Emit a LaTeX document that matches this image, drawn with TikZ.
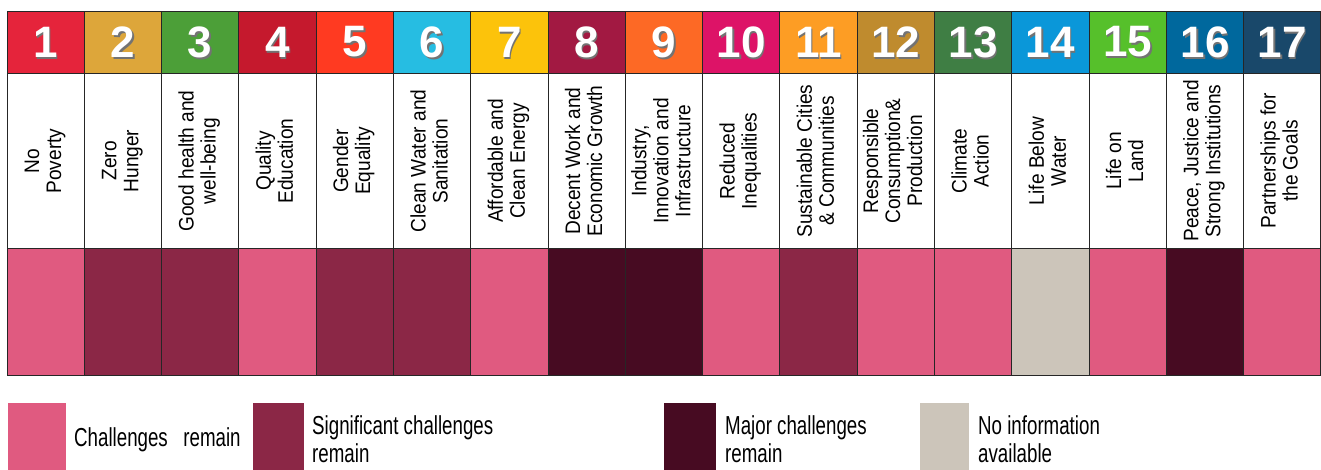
\documentclass[tikz,border=0pt]{standalone}
\usepackage{fontspec}
\setmainfont{Liberation Sans}
\newfontfamily\legendfont[FakeStretch=0.72]{Liberation Sans}
\newfontfamily\namefont[FakeStretch=0.91]{Liberation Sans}
\usetikzlibrary{positioning}
\usepackage{xcolor}
\usepackage{graphicx}

% goal colours
\definecolor{sdgA}{HTML}{E5243B}
\definecolor{sdgB}{HTML}{DDA63A}
\definecolor{sdgC}{HTML}{4C9F38}
\definecolor{sdgD}{HTML}{C5192D}
\definecolor{sdgE}{HTML}{FF3A21}
\definecolor{sdgF}{HTML}{26BDE2}
\definecolor{sdgG}{HTML}{FCC30B}
\definecolor{sdgH}{HTML}{A21942}
\definecolor{sdgI}{HTML}{FD6925}
\definecolor{sdgJ}{HTML}{DD1367}
\definecolor{sdgK}{HTML}{FD9D24}
\definecolor{sdgL}{HTML}{BF8B2E}
\definecolor{sdgM}{HTML}{3F7E44}
\definecolor{sdgN}{HTML}{0A97D9}
\definecolor{sdgO}{HTML}{56C02B}
\definecolor{sdgP}{HTML}{00689D}
\definecolor{sdgQ}{HTML}{19486A}
% status colours
\definecolor{chal}{HTML}{E05A80}
\definecolor{sigchal}{HTML}{8B2746}
\definecolor{majchal}{HTML}{470B22}
\definecolor{noinfo}{HTML}{CCC5BA}

\begin{document}
\begin{tikzpicture}[x=1pt,y=1pt]
	\newcommand\colw{77.29pt}
	\newcommand\numh{62pt}
	\newcommand\nameh{174pt}
	\newcommand\stath{127pt}
	\newcommand\goalnum[1]{\makebox[0pt][l]{\hspace{1.5pt}\raisebox{-2pt}{\textcolor{black!55}{#1}}}#1}
	\newcommand\goaltext[1]{\rotatebox{90}{\begin{tabular}{@{}c@{}}#1\end{tabular}}}
	\tikzset{
		cell/.style = {rectangle, draw=black!85, line width=1pt, inner sep=0pt, outer sep=0pt, minimum width=\colw},
		numcell/.style = {cell, minimum height=\numh, fill=#1, text=white, font=\fontsize{44}{44}\selectfont\bfseries},
		namecell/.style = {cell, minimum height=\nameh, fill=white, font=\namefont\fontsize{21}{22}\selectfont},
		statcell/.style = {cell, minimum height=\stath, fill=#1},
		legbox/.style = {rectangle, fill=#1, inner sep=0pt, outer sep=0pt, minimum height=67pt, anchor=north west},
		legtext/.style = {inner sep=0pt, align=left, font=\legendfont\fontsize{26}{28}\selectfont},
	}
	\useasboundingbox (0,0) rectangle (1321,-470);

	% goal numbers
	\node [numcell=sdgA, anchor=north west] (h1) at (7,-12) {\goalnum{1}};
	\node [numcell=sdgB, right=0pt of h1] (h2) {\goalnum{2}};
	\node [numcell=sdgC, right=0pt of h2] (h3) {\goalnum{3}};
	\node [numcell=sdgD, right=0pt of h3] (h4) {\goalnum{4}};
	\node [numcell=sdgE, right=0pt of h4] (h5) {\goalnum{5}};
	\node [numcell=sdgF, right=0pt of h5] (h6) {\goalnum{6}};
	\node [numcell=sdgG, right=0pt of h6] (h7) {\goalnum{7}};
	\node [numcell=sdgH, right=0pt of h7] (h8) {\goalnum{8}};
	\node [numcell=sdgI, right=0pt of h8] (h9) {\goalnum{9}};
	\node [numcell=sdgJ, right=0pt of h9] (h10) {\goalnum{10}};
	\node [numcell=sdgK, right=0pt of h10] (h11) {\goalnum{11}};
	\node [numcell=sdgL, right=0pt of h11] (h12) {\goalnum{12}};
	\node [numcell=sdgM, right=0pt of h12] (h13) {\goalnum{13}};
	\node [numcell=sdgN, right=0pt of h13] (h14) {\goalnum{14}};
	\node [numcell=sdgO, right=0pt of h14] (h15) {\goalnum{15}};
	\node [numcell=sdgP, right=0pt of h15] (h16) {\goalnum{16}};
	\node [numcell=sdgQ, right=0pt of h16] (h17) {\goalnum{17}};

	% goal names
	\node [namecell, below=0pt of h1] (n1) {\goaltext{No\\Poverty}};
	\node [namecell, below=0pt of h2] (n2) {\goaltext{Zero\\Hunger}};
	\node [namecell, below=0pt of h3] (n3) {\goaltext{Good health and\\well-being}};
	\node [namecell, below=0pt of h4] (n4) {\goaltext{Quality\\Education}};
	\node [namecell, below=0pt of h5] (n5) {\goaltext{Gender\\Equality}};
	\node [namecell, below=0pt of h6] (n6) {\goaltext{Clean Water and\\Sanitation}};
	\node [namecell, below=0pt of h7] (n7) {\goaltext{Affordable and\\Clean Energy}};
	\node [namecell, below=0pt of h8] (n8) {\goaltext{Decent Work and\\Economic Growth}};
	\node [namecell, below=0pt of h9] (n9) {\goaltext{Industry,\\Innovation and\\Infrastructure}};
	\node [namecell, below=0pt of h10] (n10) {\goaltext{Reduced\\Inequalities}};
	\node [namecell, below=0pt of h11] (n11) {\goaltext{Sustainable Cities\\\& Communities}};
	\node [namecell, below=0pt of h12] (n12) {\goaltext{Responsible\\Consumption\&\\Production}};
	\node [namecell, below=0pt of h13] (n13) {\goaltext{Climate\\Action}};
	\node [namecell, below=0pt of h14] (n14) {\goaltext{Life Below\\Water}};
	\node [namecell, below=0pt of h15] (n15) {\goaltext{Life on\\Land}};
	\node [namecell, below=0pt of h16] (n16) {\goaltext{Peace, Justice and\\Strong Institutions}};
	\node [namecell, below=0pt of h17] (n17) {\goaltext{Partnerships for\\the Goals}};

	% status
	\node [statcell=chal, below=0pt of n1] (s1) {};
	\node [statcell=sigchal, below=0pt of n2] (s2) {};
	\node [statcell=sigchal, below=0pt of n3] (s3) {};
	\node [statcell=chal, below=0pt of n4] (s4) {};
	\node [statcell=sigchal, below=0pt of n5] (s5) {};
	\node [statcell=sigchal, below=0pt of n6] (s6) {};
	\node [statcell=chal, below=0pt of n7] (s7) {};
	\node [statcell=majchal, below=0pt of n8] (s8) {};
	\node [statcell=majchal, below=0pt of n9] (s9) {};
	\node [statcell=chal, below=0pt of n10] (s10) {};
	\node [statcell=sigchal, below=0pt of n11] (s11) {};
	\node [statcell=chal, below=0pt of n12] (s12) {};
	\node [statcell=chal, below=0pt of n13] (s13) {};
	\node [statcell=noinfo, below=0pt of n14] (s14) {};
	\node [statcell=chal, below=0pt of n15] (s15) {};
	\node [statcell=majchal, below=0pt of n16] (s16) {};
	\node [statcell=chal, below=0pt of n17] (s17) {};

	% legend
	\node [legbox=chal, minimum width=58pt] (leg1) at (8,-403) {};
	\node [legbox=sigchal, minimum width=51pt] (leg2) at (253,-403) {};
	\node [legbox=majchal, minimum width=52pt] (leg3) at (664,-403) {};
	\node [legbox=noinfo, minimum width=49pt] (leg4) at (920,-403) {};
	\node [legtext, right=8pt of leg1, yshift=-3pt] (legt1) {Challenges~~~remain};
	\node [legtext, right=8pt of leg2, yshift=-3pt] (legt2) {Significant challenges\\remain};
	\node [legtext, right=9pt of leg3, yshift=-3pt] (legt3) {Major challenges\\remain};
	\node [legtext, right=9pt of leg4, yshift=-3pt] (legt4) {No information\\available};
\end{tikzpicture}
\end{document}
